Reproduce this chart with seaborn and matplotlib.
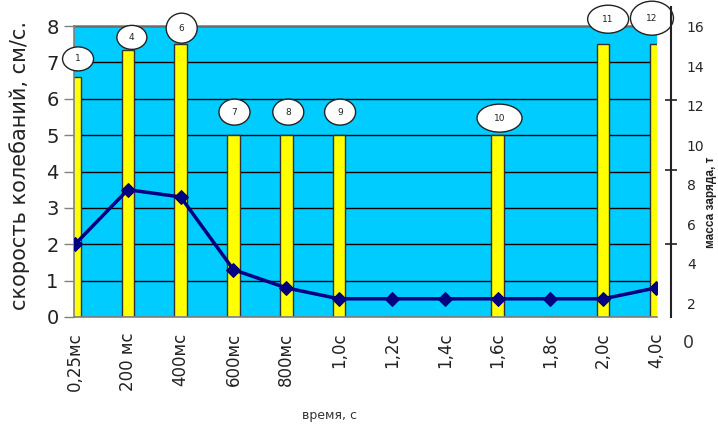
import numpy as np
import pandas as pd
import seaborn as sns
import matplotlib
matplotlib.use("Agg")
import matplotlib.pyplot as plt
from matplotlib.patches import Ellipse
from matplotlib.transforms import ScaledTranslation

# ---- data ----
categories = ["0,25мс", "200 мс", "400мс", "600мс", "800мс", "1,0с",
              "1,2с", "1,4с", "1,6с", "1,8с", "2,0с", "4,0с"]
bar_values = [6.6, 7.33, 7.5, 5.0, 5.0, 5.0, 0, 0, 5.0, 0, 7.5, 7.5]
line_values = [2.0, 3.5, 3.3, 1.3, 0.8, 0.5, 0.5, 0.5, 0.5, 0.5, 0.5, 0.8]
bar_labels = ["1", "4", "6", "7", "8", "9", "", "", "10", "", "11", "12"]
left_ticks = [0, 1, 2, 3, 4, 5, 6, 7, 8]
right_ticks = [2, 4, 6, 8, 10, 12, 14, 16]

# label ellipse styling: (dx px, dy px, width px, height px)
label_style = {
    "1": (3, 18, 31, 24), "4": (4, 13, 30, 24), "6": (1, 16, 31, 30),
    "7": (1, 23, 31, 26), "8": (2, 23, 31, 26), "9": (1, 23, 31, 26),
    "10": (2, 17, 45, 28), "11": (5, 25, 41, 28), "12": (-4, 26, 43, 34),
}

sns.set_style("white")
plt.rcParams["font.family"] = ["DejaVu Sans"]

W, H = 718, 426
fig = plt.figure(figsize=(W / 100, H / 100), dpi=100)
x0, x1, y0, y1 = 74, 657, 26, 317
ax = fig.add_axes([x0 / W, 1 - y1 / H, (x1 - x0) / W, (y1 - y0) / H])
ax.set_facecolor("#00CCFF")

df = pd.DataFrame({"cat": categories, "bar": bar_values, "line": line_values})

sns.barplot(data=df, x="cat", y="bar", ax=ax, color="#FFFF00", width=0.24,
            edgecolor="#333333", linewidth=1, saturation=1, zorder=2)
sns.lineplot(data=df, x="cat", y="line", ax=ax, color="#000080", lw=2.5,
             marker="D", markersize=7.5, markeredgecolor="#000080",
             sort=False, zorder=4)

ax.set_xlim(-0.02, 11.02)
ax.set_ylim(0, 8)
ax.set_yticks(left_ticks)
ax.set_yticklabels([str(t) for t in left_ticks], fontsize=14, color="#222222")
ax.yaxis.grid(True, color="black", lw=1, zorder=1)
ax.set_axisbelow(True)
ax.tick_params(axis="y", direction="out", length=7, width=1, color="#808080", pad=4, left=True)

ax.set_xticks(range(len(categories)))
ax.set_xticklabels(categories, rotation=90, fontsize=12, color="#222222")
ax.tick_params(axis="x", length=0, pad=11)
ax.set_xticks(range(0, len(categories), 2), minor=True)
ax.tick_params(axis="x", which="minor", direction="out", length=8, width=1, color="#333333", bottom=True)

for s in ["left", "top", "bottom"]:
    ax.spines[s].set_color("#808080")
    ax.spines[s].set_linewidth(1.2)
ax.spines["right"].set_visible(False)

ax.set_xlabel("время, с", fontsize=9, color="#333333")
ax.xaxis.label.set_verticalalignment("center")
ax.xaxis.set_label_coords((330 - x0) / (x1 - x0), -(416 - y1) / (y1 - y0))
ax.set_ylabel("скорость колебаний, см/с.", fontsize=15, color="#222222")
ax.yaxis.label.set_verticalalignment("center")
ax.yaxis.label.set_horizontalalignment("center")
ax.yaxis.set_label_coords(-(74 - 20) / (x1 - x0), (y1 - 165) / (y1 - y0))

# ellipse labels
for i, (v, lab) in enumerate(zip(bar_values, bar_labels)):
    if not lab:
        continue
    dx, dy, w, h = label_style[lab]
    tr = fig.dpi_scale_trans + ScaledTranslation(i, v, ax.transData)
    e = Ellipse((dx / 100, dy / 100), w / 100, h / 100, transform=tr,
                facecolor="white", edgecolor="#222222", lw=1, clip_on=False, zorder=6)
    ax.add_artist(e)
    ax.annotate(lab, xy=(i, v), xytext=(dx, dy), textcoords="offset pixels",
                ha="center", va="center", fontsize=6.5, color="#222222",
                annotation_clip=False, zorder=7)

# right axis
ax2 = ax.twinx()
ax2.set_ylim(1.3, 16.05)
ax2.set_yticks(right_ticks)
ax2.set_yticklabels([str(t) for t in right_ticks], fontsize=12.5, color="#333333")
ax2.tick_params(axis="y", length=0, pad=11.5)
ax2.set_yticks([5.0, 8.75, 12.3], minor=True)
ax2.tick_params(axis="y", which="minor", direction="inout", length=8, width=1.2,
                color="#222222", right=True)
ax2.yaxis.set_minor_formatter(matplotlib.ticker.NullFormatter())
for s in ["left", "top", "bottom"]:
    ax2.spines[s].set_visible(False)
ax2.spines["right"].set_position(("outward", 10))
ax2.spines["right"].set_bounds(1.3, 17.0)
ax2.spines["right"].set_color("#222222")
ax2.spines["right"].set_linewidth(1.5)
ax2.annotate("0", xy=(1, 0), xycoords=("axes fraction", "data"), xytext=(26, 0),
             textcoords="offset pixels", ha="left", va="center", fontsize=12.5,
             color="#333333", annotation_clip=False)
ax2.set_ylabel("масса заряда, т", fontsize=8.5, color="#222222",
               family=["Liberation Sans", "DejaVu Sans"], fontweight="bold")
ax2.yaxis.label.set_verticalalignment("center")
ax2.yaxis.label.set_horizontalalignment("center")
ax2.yaxis.set_label_coords(1 + (711 - x1) / (x1 - x0), (y1 - 202) / (y1 - y0))

fig.savefig("out.png", dpi=100)
